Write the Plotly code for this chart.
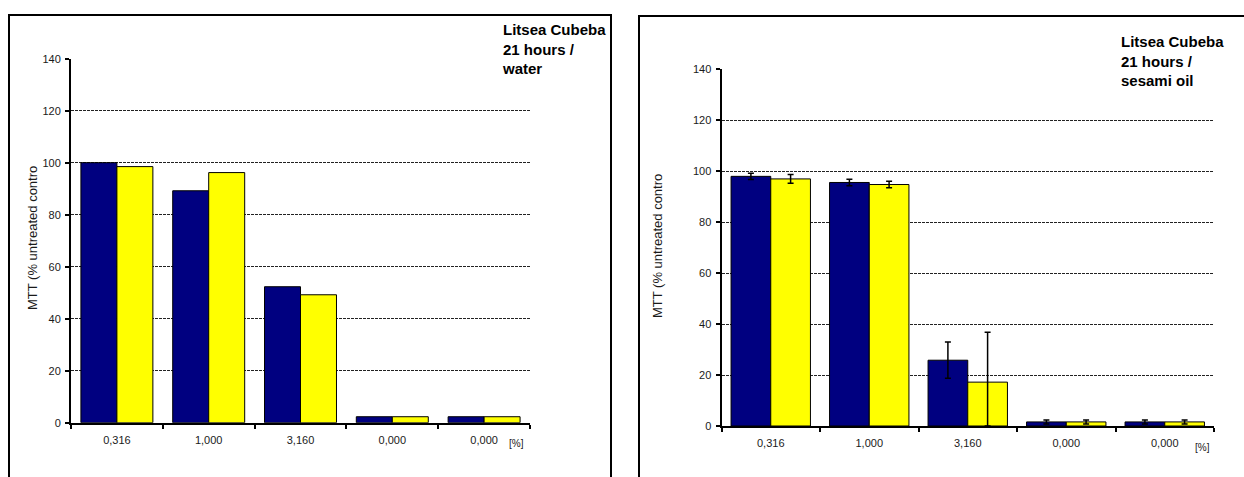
import plotly.graph_objects as go

# Concentrations on the x axis (same labels in both panels)
categories = ["0,316", "1,000", "3,160", "0,000", "0,000"]
y_ticks = [0, 20, 40, 60, 80, 100, 120, 140]

# Panel 1: 21 hours / water
water_series1 = [100.0, 89.2, 52.3, 2.3, 2.3]
water_series2 = [98.5, 96.2, 49.2, 2.3, 2.3]

# Panel 2: 21 hours / sesami oil (with standard deviations)
oil_series1 = [97.9, 95.5, 25.8, 1.6, 1.6]
oil_series1_err = [1.25, 1.25, 7.1, 0.8, 0.8]
oil_series2 = [96.9, 94.7, 17.2, 1.6, 1.6]
oil_series2_err_plus = [1.7, 1.3, 19.6, 0.8, 0.8]
oil_series2_err_minus = [1.7, 1.3, 17.2, 0.8, 0.8]

NAVY = "#000080"
YELLOW = "#FFFF00"
FONT = "Liberation Sans, Arial, sans-serif"
W, H = 1244, 477

positions = list(range(len(categories)))
boundaries = [p - 0.5 for p in positions] + [positions[-1] + 0.5]


def px_x(px):
    return px / W


def px_y(py):
    return 1 - py / H


fig = go.Figure()

# ---- bars, panel 1
bw1 = 0.392
fig.add_trace(go.Bar(x=positions, y=water_series1, width=bw1, offset=-bw1,
                     marker=dict(color=NAVY, line=dict(color="black", width=1)),
                     xaxis="x", yaxis="y", showlegend=False))
fig.add_trace(go.Bar(x=positions, y=water_series2, width=bw1, offset=0,
                     marker=dict(color=YELLOW, line=dict(color="black", width=1)),
                     xaxis="x", yaxis="y", showlegend=False))

# ---- bars, panel 2
bw2 = 0.403
err_style = dict(type="data", color="black", thickness=1.5, width=3, visible=True)
fig.add_trace(go.Bar(x=positions, y=oil_series1, width=bw2, offset=-bw2,
                     marker=dict(color=NAVY, line=dict(color="black", width=1)),
                     error_y=dict(array=oil_series1_err, arrayminus=oil_series1_err,
                                  symmetric=False, **err_style),
                     xaxis="x2", yaxis="y2", showlegend=False))
fig.add_trace(go.Bar(x=positions, y=oil_series2, width=bw2, offset=0,
                     marker=dict(color=YELLOW, line=dict(color="black", width=1)),
                     error_y=dict(array=oil_series2_err_plus, arrayminus=oil_series2_err_minus,
                                  symmetric=False, **err_style),
                     xaxis="x2", yaxis="y2", showlegend=False))

tickfont = dict(family=FONT, size=11, color="#1a1a1a")


def xaxis_cfg(domain, anchor):
    return dict(
        domain=domain, anchor=anchor, range=[-0.5, len(categories) - 0.5],
        tickmode="array", tickvals=positions, ticktext=categories,
        ticks="", showgrid=False, zeroline=False,
        showline=True, linecolor="black", linewidth=2,
        tickfont=tickfont, ticklabelstandoff=6, automargin=False,
        minor=dict(tickmode="array", tickvals=boundaries, ticks="outside",
                   ticklen=4, tickwidth=2, tickcolor="black", showgrid=False),
        fixedrange=True,
    )


def yaxis_cfg(domain, anchor):
    return dict(
        domain=domain, anchor=anchor, range=[0, 140],
        tickmode="array", tickvals=y_ticks,
        ticks="outside", ticklen=4, tickwidth=2, tickcolor="black",
        showline=True, linecolor="black", linewidth=2, zeroline=False,
        showgrid=True, gridcolor="#222222", gridwidth=1, griddash="3px,1px",
        tickfont=tickfont, ticklabelstandoff=2, automargin=False,
        fixedrange=True,
    )


fig.update_layout(
    width=W, height=H, autosize=False,
    margin=dict(l=0, r=0, t=0, b=0, pad=0, autoexpand=False),
    paper_bgcolor="white", plot_bgcolor="white",
    barmode="overlay", showlegend=False,
    xaxis=xaxis_cfg([px_x(71), px_x(530)], "y"),
    yaxis=yaxis_cfg([px_y(422.7), px_y(58.7)], "x"),
    xaxis2=xaxis_cfg([px_x(721.5), px_x(1214)], "y2"),
    yaxis2=yaxis_cfg([px_y(426), px_y(69)], "x2"),
    font=dict(family=FONT),
)

# Chart frames
fig.add_shape(type="rect", xref="paper", yref="paper",
              x0=px_x(9), x1=px_x(611), y0=px_y(495), y1=px_y(15),
              line=dict(color="black", width=2), fillcolor="rgba(0,0,0,0)", layer="above")
fig.add_shape(type="rect", xref="paper", yref="paper",
              x0=px_x(639), x1=px_x(1260), y0=px_y(495), y1=px_y(16),
              line=dict(color="black", width=2), fillcolor="rgba(0,0,0,0)", layer="above")

title_font = dict(family=FONT, size=15, color="black")
ylabel = "MTT (% untreated contro"
label_font = dict(family=FONT, size=13, color="#1a1a1a")

annotations = [
    dict(text="<b>Litsea Cubeba<br>21 hours /<br>water</b>", x=px_x(500), y=px_y(49.5),
         xanchor="left", yanchor="middle", align="left", font=title_font),
    dict(text="<b>Litsea Cubeba<br>21 hours /<br>sesami oil</b>", x=px_x(1119), y=px_y(61),
         xanchor="left", yanchor="middle", align="left", font=title_font),
    dict(text=ylabel, x=px_x(32), y=px_y(238), textangle=-90,
         xanchor="center", yanchor="middle", font=label_font),
    dict(text=ylabel, x=px_x(657), y=px_y(246), textangle=-90,
         xanchor="center", yanchor="middle", font=label_font),
    dict(text="[%]", x=px_x(516.5), y=px_y(443), xanchor="center", yanchor="middle",
         font=dict(family=FONT, size=10, color="#1a1a1a")),
    dict(text="[%]", x=px_x(1202), y=px_y(447), xanchor="center", yanchor="middle",
         font=dict(family=FONT, size=10, color="#1a1a1a")),
]
for a in annotations:
    a.update(xref="paper", yref="paper", showarrow=False)
fig.update_layout(annotations=annotations)

fig.write_html("out.html")
